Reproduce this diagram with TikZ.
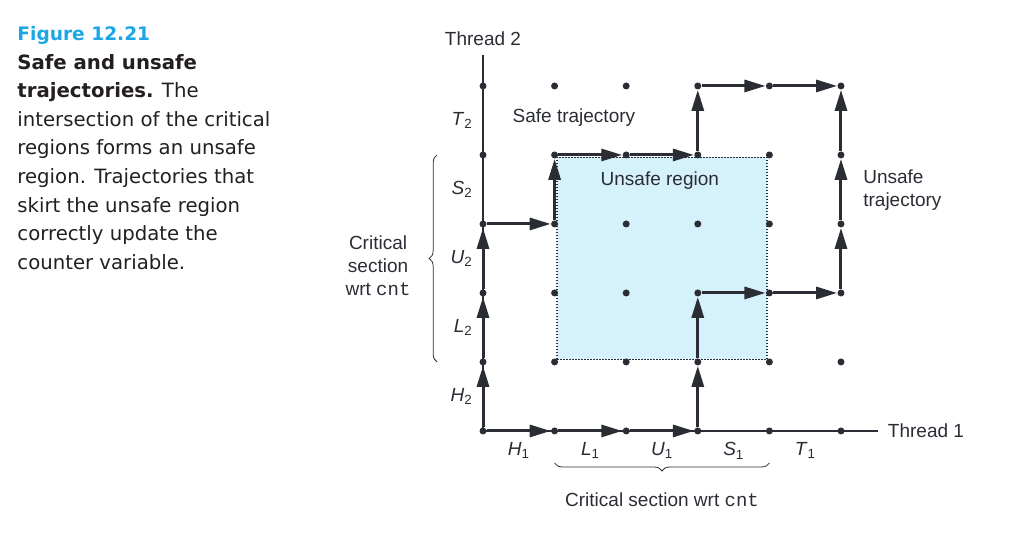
\documentclass[tikz,border=0pt]{standalone}
\usepackage{fontspec}
\setmainfont{Liberation Sans}
\setmonofont{Liberation Mono}
\newfontfamily\capfont{DejaVu Sans}
\usepackage{xcolor}
\usepackage{tikz}
\usetikzlibrary{arrows.meta, positioning, decorations.pathreplacing}

\definecolor{inkgray}{HTML}{2B2D35}
\definecolor{capink}{HTML}{231F20}
\definecolor{figblue}{HTML}{1CA6E6}
\definecolor{unsafefill}{HTML}{D5F1FB}

\newcommand{\seg}[2]{\textit{#1}\textsubscript{#2}}

\begin{document}
\begin{tikzpicture}[x=71.6pt, y=69pt, thick, font=\fontsize{19}{23}\selectfont, text=inkgray]
    \tikzstyle{dot} = [circle, fill=inkgray, inner sep=0pt, minimum size=7pt]
    \tikzstyle{axis} = [draw=inkgray, line width=1.3pt]
    \tikzstyle{traj} = [draw=inkgray, line width=3pt, -{Triangle[length=21pt, width=12pt]}]
    \tikzstyle{unsafe} = [fill=unsafefill, draw=inkgray, line width=1.6pt, dash pattern=on 1.5pt off 1.5pt]
    \tikzstyle{brace} = [draw=inkgray, line width=0.8pt, decorate, decoration={brace, amplitude=8pt}]

    \useasboundingbox (-6.746,-1.623) rectangle (7.598,6.246);

    % caption on the left
    \node [anchor=north west, align=left, inner sep=0pt, text=capink, font=\capfont\fontsize{19.7}{28.6}\selectfont] (caption) at (-6.508,5.87)
        {{\color{figblue}\bfseries\fontsize{18.6}{28.6}\selectfont Figure 12.21}\\
         \textbf{Safe and unsafe}\\
         \textbf{trajectories.} The\\
         intersection of the critical\\
         regions forms an unsafe\\
         region. Trajectories that\\
         skirt the unsafe region\\
         correctly update the\\
         counter variable.};

    % unsafe region
    \draw [unsafe] ([shift={(2.5pt,2.5pt)}]1,1) rectangle ([shift={(-2.5pt,-2.5pt)}]4,4);

    % the two thread axes
    \coordinate (origin) at (0,0);
    \coordinate (t1end) at (5.52,0);
    \coordinate (t2end) at (0,5.45);
    \path [axis] (origin) -- (t1end);
    \path [axis] (origin) -- (t2end);
    \node [right=6pt of t1end] (thread1) {Thread 1};
    \node [above=5pt of t2end] (thread2) {Thread 2};

    % grid of states
    \foreach \i in {0,...,5}
        \foreach \j in {0,...,5}
            \node [dot] (d-\i-\j) at (\i,\j) {};

    % safe trajectory
    \foreach \a/\b in {0-0/0-1, 0-1/0-2, 0-2/0-3, 0-3/1-3, 1-3/1-4, 1-4/2-4, 2-4/3-4, 3-4/3-5, 3-5/4-5, 4-5/5-5}
        \path [traj] (d-\a) -- (d-\b);
    % unsafe trajectory
    \foreach \a/\b in {0-0/1-0, 1-0/2-0, 2-0/3-0, 3-0/3-1, 3-1/3-2, 3-2/4-2, 4-2/5-2, 5-2/5-3, 5-3/5-4, 5-4/5-5}
        \path [traj] (d-\a) -- (d-\b);

    % instruction labels
    \foreach \i/\n/\l in {0/1/H, 1/2/L, 2/3/U, 3/4/S, 4/5/T} {
        \path (d-\i-0) -- node [below=8pt] {\seg{\l}{1}} (d-\n-0);
        \path (d-0-\i) -- node [left=7pt] {\seg{\l}{2}} (d-0-\n);
    }

    % critical sections
    \coordinate (cs2lo) at (-0.64,1);
    \coordinate (cs2hi) at (-0.64,4);
    \draw [brace] (cs2lo) -- node [left=23pt, yshift=-7pt, align=center] (cs2lab) {Critical\\section\\wrt \texttt{cnt}} (cs2hi);
    \coordinate (cs1lo) at (1,-0.464);
    \coordinate (cs1hi) at (4,-0.464);
    \draw [brace] (cs1hi) -- node [below=26pt] (cs1lab) {Critical section wrt \texttt{cnt}} (cs1lo);

    \node (safelab) at (1.27,4.54) {Safe trajectory};
    \node (unsafelab) at (2.47,3.63) {Unsafe region};
    \node [anchor=west, align=left] (unsafetraj) at (5.26,3.49) {Unsafe\\trajectory};
\end{tikzpicture}
\end{document}
